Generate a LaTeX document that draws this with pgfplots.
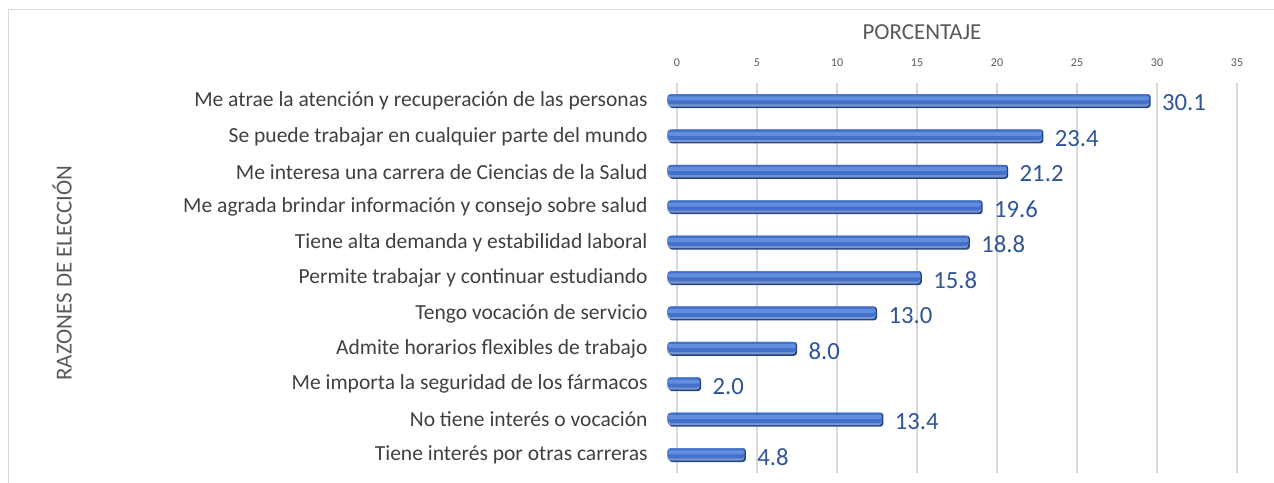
\documentclass[border=0pt]{standalone}
\usepackage{fontspec}
\setmainfont{Carlito}
\usepackage{pgfplots}
\usepackage{pgfplotstable}
\pgfplotsset{compat=1.18}
\definecolor{barlight}{RGB}{98,142,222}
\definecolor{barmid}{RGB}{66,112,202}
\definecolor{bartop}{RGB}{120,150,205}
\definecolor{bardark}{RGB}{36,68,132}
\definecolor{vallab}{RGB}{47,85,151}
\definecolor{txtgray}{RGB}{89,89,89}
\definecolor{gridgray}{RGB}{217,217,217}
\pgfplotstableread{
x y l
30.1 0 30.1
23.4 1 23.4
21.2 2 21.2
19.6 3 19.6
18.8 4 18.8
15.8 5 15.8
13.0 6 13.0
8.0 7 8.0
2.0 8 2.0
13.4 9 13.4
4.8 10 4.8
}\datatable
\begin{document}
\begin{tikzpicture}
\useasboundingbox (0,0) rectangle (1274bp,483bp);
\draw[gridgray, line width=1bp] (8bp,0) -- (8bp,473bp) -- (1280bp,473bp);
\begin{axis}[
  at={(677bp,399.7bp)}, anchor=north west,
  scale only axis, width=560bp, height=389.4bp,
  xmin=0, xmax=35, ymin=-0.5, ymax=10.5,
  y dir=reverse,
  clip=false,
  axis line style={draw=none},
  major tick length=0pt,
  xtick={0,5,...,35},
  xticklabel pos=right,
  xticklabel style={font=\fontsize{12}{14}\selectfont, text=txtgray, yshift=13bp},
  /pgf/number format/assume math mode=true,
  xmajorgrids, grid style={gridgray, line width=1.5bp},
  ytick={0,...,10},
  yticklabels={Me atrae la atención y recuperación de las personas,
    Se puede trabajar en cualquier parte del mundo,
    Me interesa una carrera de Ciencias de la Salud,
    Me agrada brindar información y consejo sobre salud,
    Tiene alta demanda y estabilidad laboral,
    Permite trabajar y continuar estudiando,
    Tengo vocación de servicio,
    Admite horarios flexibles de trabajo,
    Me importa la seguridad de los fármacos,
    No tiene interés o vocación,
    Tiene interés por otras carreras},
  yticklabel style={font=\fontsize{21.6}{24}\selectfont, text=black!75, xshift=-26bp},
  xlabel={PORCENTAJE},
  every axis x label/.style={at={(axis description cs:0.4375,1.131)}, anchor=center,
     font=\fontsize{23}{26}\selectfont, text=txtgray},
  ylabel={RAZONES DE ELECCIÓN},
  every axis y label/.style={at={(axis description cs:-1.098,0.513)}, anchor=center, rotate=90,
     font=\fontsize{23}{26}\selectfont, text=txtgray},
]
\addplot[xbar, bar width=14bp, xshift=-8bp, draw=none, fill=bardark,
  rounded corners=3bp,
  nodes near coords, point meta=explicit symbolic,
  every node near coord/.style={anchor=west, font=\fontsize{24.8}{28}\selectfont, text=vallab, xshift=8bp, yshift=-2bp}]
  table[x=x, y=y, meta=l] {\datatable};
\addplot[xbar, bar width=12.5bp, bar shift=0.75bp, xshift=-9.5bp, draw=none, fill=bartop,
  rounded corners=3bp]
  table[x=x, y=y] {\datatable};
\addplot[xbar, bar width=10bp, bar shift=1.6bp, xshift=-9.5bp, draw=none, fill=barmid,
  rounded corners=3bp]
  table[x=x, y=y] {\datatable};
\addplot[xbar, bar width=4bp, bar shift=2.6bp, xshift=-9.5bp, draw=none, fill=barlight,
  rounded corners=1.5bp]
  table[x=x, y=y] {\datatable};
\end{axis}
\end{tikzpicture}
\end{document}
